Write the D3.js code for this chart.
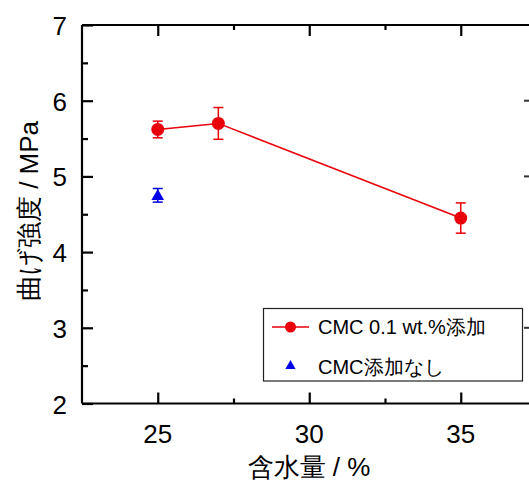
<!DOCTYPE html>
<html>
<head>
<meta charset="utf-8">
<script src="https://cdn.jsdelivr.net/npm/d3@7"></script>
<style>
body { margin:0; background:#fff; }
svg text { font-family: "Liberation Sans", Arial, sans-serif; fill:#000; }
</style>
</head>
<body>
<svg width="529" height="481"></svg>
<script>
// data
var cmcX = [25, 27, 35];
var cmcY = [5.62, 5.70, 4.45];
var cmcErr = [0.11, 0.21, 0.2];
var noneX = [25];
var noneY = [4.75];
var noneErr = [0.09];
var xTicks = [25, 30, 35];
var yTicks = [2, 3, 4, 5, 6, 7];
var legendLabels = ["CMC 0.1 wt.%添加", "CMC添加なし"];

var svg = d3.select("svg");
var left = 82, topY = 25, bottom = 403.5;
var x = d3.scaleLinear().domain([22.5, 40]).range([left, left + 17.5 * 30.3]);
var y = d3.scaleLinear().domain([2, 7]).range([bottom, topY]);

var g = svg.append("g");

// frame (left, bottom, top); right side is cut off
g.append("line").attr("x1", left).attr("x2", left).attr("y1", topY).attr("y2", bottom)
	.attr("stroke", "#000").attr("stroke-width", 2.2);
g.append("line").attr("x1", left).attr("x2", 529).attr("y1", bottom).attr("y2", bottom)
	.attr("stroke", "#000").attr("stroke-width", 2.2);
g.append("line").attr("x1", left).attr("x2", 529).attr("y1", topY).attr("y2", topY)
	.attr("stroke", "#000").attr("stroke-width", 2.2);

// axes with inward ticks
var xAxis = d3.axisTop(x).tickValues(xTicks).tickSize(11).tickFormat("");
var xMinor = d3.axisTop(x).tickValues([27.5, 32.5, 37.5]).tickSize(5).tickFormat("");
var xTop = d3.axisBottom(x).tickValues(xTicks).tickSize(11).tickFormat("");
var xTopMinor = d3.axisBottom(x).tickValues([27.5, 32.5, 37.5]).tickSize(5).tickFormat("");
var yAxis = d3.axisRight(y).tickValues(yTicks).tickSize(11).tickFormat("");
var yMinor = d3.axisRight(y).tickValues([2.5, 3.5, 4.5, 5.5, 6.5]).tickSize(6).tickFormat("");

[[xAxis, "translate(0," + bottom + ")"], [xMinor, "translate(0," + bottom + ")"],
 [xTop, "translate(0," + topY + ")"], [xTopMinor, "translate(0," + topY + ")"],
 [yAxis, "translate(" + left + ",0)"], [yMinor, "translate(" + left + ",0)"]].forEach(function(a){
	var ax = g.append("g").attr("transform", a[1]).call(a[0]);
	ax.select(".domain").remove();
	ax.selectAll("line").attr("stroke", "#000").attr("stroke-width", 2.2);
});

// tick labels
g.selectAll(".xl").data(xTicks).enter().append("text")
	.attr("x", function(d){ return x(d); }).attr("y", 443)
	.attr("text-anchor", "middle").style("font-size", "26px").text(function(d){ return d; });
g.selectAll(".yl").data(yTicks).enter().append("text")
	.attr("x", 67).attr("y", function(d){ return y(d) + 10; })
	.attr("text-anchor", "end").style("font-size", "26px").text(function(d){ return d; });

// axis titles
svg.append("text").attr("x", 309).attr("y", 476).attr("text-anchor", "middle")
	.style("font-size", "26px").text("含水量 / %");
svg.append("text").attr("transform", "translate(38,211) rotate(-90)").attr("text-anchor", "middle")
	.style("font-size", "26px").text("曲げ強度 / MPa");

var red = "#e8000b", blue = "#0000e6";

// red series
var line = d3.line().x(function(d){ return x(d[0]); }).y(function(d){ return y(d[1]); });
g.append("path").datum(d3.zip(cmcX, cmcY)).attr("d", line)
	.attr("fill", "none").attr("stroke", red).attr("stroke-width", 1.5);

function errorBars(xs, ys, es, col){
	xs.forEach(function(xv, i){
		var cx = x(xv), y1 = y(ys[i] + es[i]), y2 = y(ys[i] - es[i]);
		g.append("line").attr("x1", cx).attr("x2", cx).attr("y1", y1).attr("y2", y2)
			.attr("stroke", col).attr("stroke-width", 1.5);
		[y1, y2].forEach(function(yy){
			g.append("line").attr("x1", cx - 5).attr("x2", cx + 5).attr("y1", yy).attr("y2", yy)
				.attr("stroke", col).attr("stroke-width", 1.5);
		});
	});
}
errorBars(cmcX, cmcY, cmcErr, red);
errorBars(noneX, noneY, noneErr, blue);

g.selectAll(".rp").data(d3.zip(cmcX, cmcY)).enter().append("circle")
	.attr("cx", function(d){ return x(d[0]); }).attr("cy", function(d){ return y(d[1]); })
	.attr("r", 6.5).attr("fill", red);

var tri = d3.symbol().type(d3.symbolTriangle).size(70);
g.selectAll(".bp").data(d3.zip(noneX, noneY)).enter().append("path")
	.attr("d", tri)
	.attr("transform", function(d){ return "translate(" + x(d[0]) + "," + (y(d[1]) + 1) + ")"; })
	.attr("fill", blue);

// legend
var lg = svg.append("g");
lg.append("rect").attr("x", 263.5).attr("y", 308.5).attr("width", 259).attr("height", 72.5)
	.attr("fill", "#fff").attr("stroke", "#222").attr("stroke-width", 1.2);
lg.append("line").attr("x1", 272).attr("x2", 309).attr("y1", 327).attr("y2", 327)
	.attr("stroke", red).attr("stroke-width", 1.5);
lg.append("circle").attr("cx", 290.5).attr("cy", 327).attr("r", 5.5).attr("fill", red);
lg.append("path").attr("d", d3.symbol().type(d3.symbolTriangle).size(45))
	.attr("transform", "translate(290.5,366)").attr("fill", blue);
lg.selectAll(".lt").data(legendLabels).enter().append("text")
	.attr("x", 318).attr("y", function(d, i){ return 334 + i * 40; })
	.style("font-size", "20px").text(function(d){ return d; });

// edge of the neighbouring figure, cut off at the right
svg.selectAll(".nb").data([3, 5, 6]).enter().append("line")
	.attr("x1", 524).attr("x2", 529)
	.attr("y1", function(d){ return y(d); }).attr("y2", function(d){ return y(d); })
	.attr("stroke", "#333").attr("stroke-width", 2);
</script>
</body>
</html>
